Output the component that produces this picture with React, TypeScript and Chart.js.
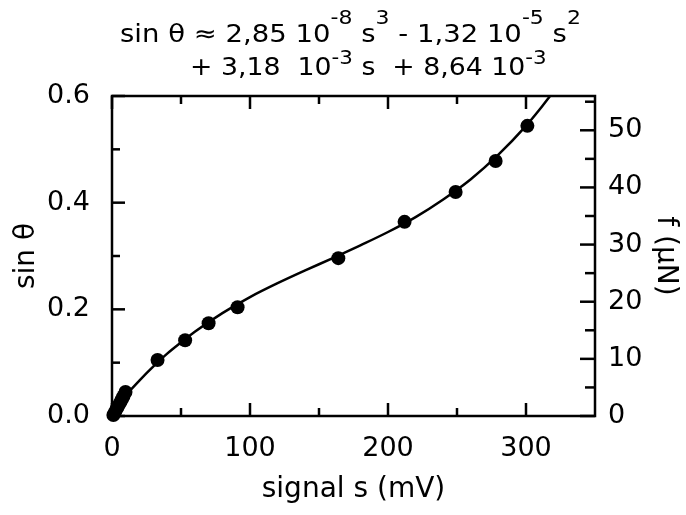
import React, { useEffect, useRef } from 'react';
import { Chart, registerables } from 'chart.js';

Chart.register(...registerables);

// Measured points (signal s in mV, sin θ)
const measuredSignal = [1, 2.3, 3.5, 4.6, 5.9, 7.1, 8.3, 9.8, 33, 53, 70, 91, 164, 212, 249, 278, 301];
const measuredSin = [0.002, 0.008, 0.014, 0.019, 0.025, 0.031, 0.037, 0.045, 0.105, 0.142, 0.174, 0.204, 0.296, 0.364, 0.42, 0.478, 0.544];

// Fitted curve
const fitSignal = [0, 5, 10, 20, 30, 40, 50, 60, 80, 100, 120, 140, 160, 180, 200, 220, 240, 260, 280, 300, 310, 318];
const fitSin = [0.009, 0.024, 0.039, 0.067, 0.093, 0.117, 0.138, 0.158, 0.193, 0.223, 0.249, 0.273, 0.296, 0.32, 0.345, 0.373, 0.406, 0.444, 0.49, 0.544, 0.575, 0.602];

// Tick marks
const xMajor = [0, 100, 200, 300];
const xMinor = [50, 150, 250];
const yMajor = [0, 0.2, 0.4, 0.6];
const yMinor = [0.1, 0.3, 0.5];
const fMajor = [0, 10, 20, 30, 40, 50];
const fMinor = [5, 15, 25, 35, 45, 55];

const FONT = 'DejaVu Sans';

const frameTicks = {
  id: 'frameTicks',
  afterDatasetsDraw(chart: any) {
    const { ctx, chartArea: a, scales } = chart;
    ctx.save();
    ctx.strokeStyle = '#000';
    ctx.lineWidth = 2.5;
    ctx.strokeRect(a.left, a.top, a.right - a.left, a.bottom - a.top);
    const seg = (x1: number, y1: number, x2: number, y2: number) => {
      ctx.beginPath();
      ctx.moveTo(x1, y1);
      ctx.lineTo(x2, y2);
      ctx.stroke();
    };
    const MAJ = 13;
    const MIN = 8;
    xMajor.forEach((v) => {
      const p = scales.x.getPixelForValue(v);
      seg(p, a.bottom, p, a.bottom - MAJ);
      seg(p, a.top, p, a.top + MAJ);
    });
    xMinor.forEach((v) => {
      const p = scales.x.getPixelForValue(v);
      seg(p, a.bottom, p, a.bottom - MIN);
      seg(p, a.top, p, a.top + MIN);
    });
    yMajor.forEach((v) => {
      const p = scales.y.getPixelForValue(v);
      seg(a.left, p, a.left + MAJ, p);
    });
    yMinor.forEach((v) => {
      const p = scales.y.getPixelForValue(v);
      seg(a.left, p, a.left + MIN, p);
    });
    fMajor.forEach((v) => {
      const p = scales.f.getPixelForValue(v);
      seg(a.right, p, a.right - 15, p);
    });
    fMinor.forEach((v) => {
      const p = scales.f.getPixelForValue(v);
      seg(a.right, p, a.right - 10, p);
    });
    ctx.restore();
  },
};

const Sup = ({ children, raise }: { children: React.ReactNode; raise: number }) => (
  <span style={{ fontSize: '0.8em', position: 'relative', top: -raise, lineHeight: 0 }}>{children}</span>
);

const titleLine = (left: number, top: number, scale: number): React.CSSProperties => ({
  position: 'absolute',
  left,
  top,
  fontFamily: FONT,
  fontSize: 25,
  lineHeight: '25px',
  whiteSpace: 'pre',
  color: '#000',
  transform: `scaleX(${scale})`,
  transformOrigin: 'left top',
});

export default function App() {
  const ref = useRef<HTMLCanvasElement | null>(null);

  useEffect(() => {
    document.body.style.margin = '0';
    if (!ref.current) return;
    Chart.defaults.font.family = FONT;
    Chart.defaults.color = '#000';
    const chart = new Chart(ref.current, {
      type: 'scatter',
      data: {
        datasets: [
          {
            label: 'fit',
            data: fitSignal.map((s, i) => ({ x: s, y: fitSin[i] })),
            showLine: true,
            borderColor: '#000',
            borderWidth: 2.5,
            pointRadius: 0,
            cubicInterpolationMode: 'monotone',
            yAxisID: 'y',
            order: 2,
          },
          {
            label: 'data',
            data: measuredSignal.map((s, i) => ({ x: s, y: measuredSin[i] })),
            backgroundColor: '#000',
            borderColor: '#000',
            pointRadius: 7,
            pointBorderWidth: 0,
            yAxisID: 'y',
            order: 1,
            clip: false as any,
          },
        ],
      },
      options: {
        animation: false,
        responsive: true,
        maintainAspectRatio: false,
        layout: { padding: { top: 96, left: 0, right: 0, bottom: 0 } },
        plugins: { legend: { display: false }, tooltip: { enabled: false }, title: { display: false } },
        scales: {
          x: {
            type: 'linear',
            position: 'bottom',
            min: 0,
            max: 350,
            grid: { display: false },
            border: { display: false },
            ticks: {
              stepSize: 50,
              autoSkip: false,
              maxRotation: 0,
              padding: 9,
              font: { size: 27 },
              color: '#000',
              callback: (v: any) => (Number(v) % 100 === 0 ? String(v) : ''),
            },
            title: { display: true, text: 'signal s (mV)', font: { size: 28 }, color: '#000', padding: { top: 0, bottom: 8 } },
            afterFit: (s: any) => {
              s.height = 99;
            },
          },
          y: {
            type: 'linear',
            position: 'left',
            min: 0,
            max: 0.6,
            grid: { display: false },
            border: { display: false },
            ticks: {
              stepSize: 0.1,
              autoSkip: false,
              padding: 14,
              font: { size: 27 },
              color: '#000',
              callback: (v: any) => {
                const n = Math.round(Number(v) * 10);
                return n % 2 === 0 ? (n / 10).toFixed(1) : '';
              },
            },
            title: { display: true, text: 'sin θ', font: { size: 28 }, color: '#000', padding: { top: 10, bottom: 0 } },
            afterFit: (s: any) => {
              s.width = 112;
            },
          },
          f: {
            type: 'linear',
            position: 'right',
            min: 0,
            max: 56,
            grid: { display: false },
            border: { display: false },
            ticks: {
              stepSize: 5,
              includeBounds: false,
              autoSkip: false,
              padding: 5,
              font: { size: 27 },
              color: '#000',
              callback: (v: any) => (Number(v) % 10 === 0 ? String(v) : ''),
            },
            title: { display: true, text: 'f (µN)', font: { size: 28 }, color: '#000', padding: { top: 4, bottom: 0 } },
            afterFit: (s: any) => {
              s.width = 91;
            },
          },
        },
      } as any,
      plugins: [frameTicks],
    });
    return () => chart.destroy();
  }, []);

  return (
    <div style={{ position: 'relative', width: 686, height: 515 }}>
      <canvas ref={ref} style={{ display: 'block' }} />
      <div style={titleLine(120, 21, 1.1)}>
        {'sin θ ≈ 2,85 10'}
        <Sup raise={18}>-8</Sup>
        {' s'}
        <Sup raise={18}>3</Sup>
        {' - 1,32 10'}
        <Sup raise={18}>-5</Sup>
        {' s'}
        <Sup raise={18}>2</Sup>
      </div>
      <div style={titleLine(190, 54, 1.07)}>
        {'+ 3,18  10'}
        <Sup raise={11}>-3</Sup>
        {' s  + 8,64 10'}
        <Sup raise={11}>-3</Sup>
      </div>
    </div>
  );
}
